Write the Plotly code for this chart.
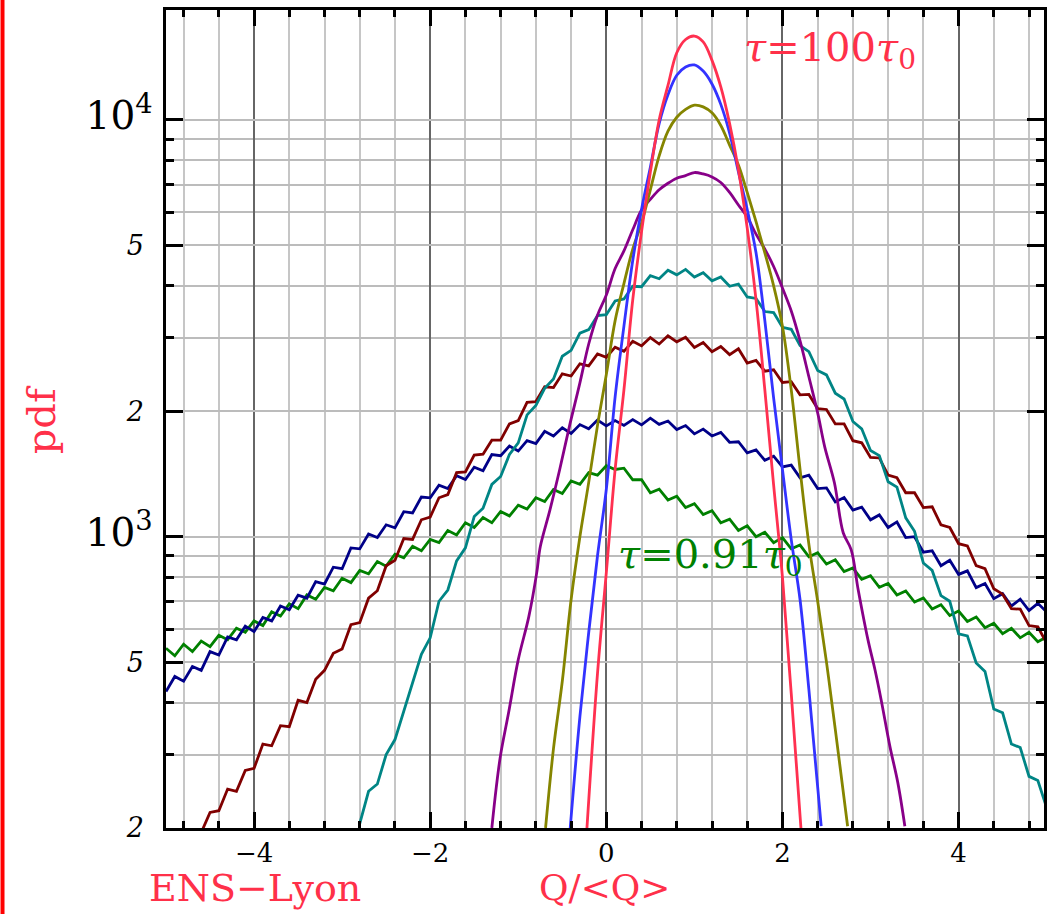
import math
import plotly.graph_objects as go

# pdf of Q/<Q> for several averaging times tau
STEP_X = lambda start, n: [round(start + 0.1 * i, 1) for i in range(n)]

GREEN_X = STEP_X(-5.0, 101)
GREEN_PDF = [540, 518, 552, 530, 562, 545, 580, 566, 603, 590,
             628, 612, 660, 645, 690, 672, 725, 708, 756, 742,
             795, 776, 830, 815, 872, 850, 908, 890, 948, 925,
             985, 968, 1035, 1010, 1080, 1052, 1112, 1080, 1150, 1122,
             1190, 1165, 1240, 1215, 1298, 1270, 1360, 1335, 1425, 1405,
             1480, 1450, 1460, 1370, 1370, 1275, 1300, 1225, 1250, 1175,
             1200, 1130, 1155, 1080, 1102, 1035, 1062, 1000, 1025, 968,
             995, 935, 955, 895, 915, 860, 880, 825, 842, 790,
             806, 756, 772, 725, 741, 697, 713, 671, 687, 647,
             663, 626, 642, 605, 620, 585, 603, 572, 590, 560,
             575]

NAVY_X = STEP_X(-5.0, 101)
NAVY_PDF = [425, 462, 450, 488, 478, 530, 520, 575, 566, 610,
            592, 640, 628, 682, 668, 724, 712, 780, 770, 845,
            838, 940, 935, 1015, 995, 1068, 1050, 1148, 1140, 1245,
            1240, 1330, 1305, 1400, 1372, 1468, 1440, 1575, 1565, 1650,
            1605, 1700, 1672, 1790, 1745, 1825, 1770, 1858, 1815, 1905,
            1845, 1900, 1850, 1910, 1855, 1925, 1860, 1895, 1808, 1848,
            1765, 1812, 1745, 1780, 1685, 1690, 1590, 1615, 1525, 1560,
            1470, 1485, 1385, 1405, 1305, 1310, 1212, 1242, 1158, 1178,
            1098, 1128, 1052, 1085, 995, 1000, 918, 925, 852, 878,
            812, 828, 755, 772, 710, 730, 682, 708, 665, 692,
            660]

MAROON_X = STEP_X(-4.6, 97)
MAROON_PDF = [195, 218, 220, 248, 245, 275, 278, 318, 315, 352,
              350, 405, 400, 455, 478, 525, 538, 615, 622, 712,
              742, 852, 878, 990, 985, 1098, 1115, 1240, 1262, 1425,
              1430, 1570, 1578, 1705, 1705, 1865, 1900, 2100, 2110, 2290,
              2280, 2460, 2430, 2600, 2570, 2745, 2695, 2850, 2785, 2945,
              2870, 3005, 2900, 3035, 2935, 3010, 2845, 2925, 2780, 2860,
              2735, 2825, 2610, 2650, 2495, 2515, 2345, 2355, 2190, 2195,
              2030, 2020, 1865, 1865, 1700, 1680, 1550, 1545, 1405, 1385,
              1275, 1275, 1175, 1180, 1068, 1052, 962, 950, 852, 838,
              750, 728, 672, 670, 612, 608, 555]

TEAL_X = STEP_X(-2.8, 79)
TEAL_PDF = [205, 245, 255, 300, 326, 382, 445, 522, 572, 700,
            745, 875, 940, 1118, 1170, 1335, 1395, 1575, 1680, 1960,
            2065, 2270, 2390, 2710, 2800, 3080, 3140, 3395, 3410, 3680,
            3720, 3990, 3980, 4230, 4160, 4360, 4250, 4380, 4200, 4300,
            4110, 4200, 3990, 4040, 3760, 3730, 3470, 3450, 3180, 3145,
            2875, 2780, 2505, 2445, 2210, 2140, 1890, 1815, 1610, 1565,
            1355, 1315, 1110, 1030, 865, 830, 722, 700, 585, 578,
            498, 475, 386, 378, 318, 312, 266, 260, 224]

PURPLE_X = [-1.30, -1.25, -1.20, -1.11, -1.00, -0.88, -0.79, -0.75, -0.64, -0.53,
            -0.41, -0.30, -0.20, -0.10, 0.00, 0.10, 0.20, 0.30, 0.40, 0.50,
            0.60, 0.70, 0.80, 0.90, 1.00, 1.10, 1.20, 1.30, 1.40, 1.50,
            1.60, 1.70, 1.80, 1.90, 2.00, 2.10, 2.20, 2.30, 2.40, 2.48,
            2.59, 2.69, 2.78, 2.86, 2.97, 3.05, 3.12, 3.22, 3.31, 3.39]
PURPLE_PDF = [200, 250, 300, 378, 507, 643, 820, 946, 1160, 1448,
              1876, 2340, 2900, 3400, 3800, 4400, 4850, 5450, 6080, 6450,
              6800, 7050, 7250, 7350, 7480, 7420, 7300, 7080, 6700, 6250,
              5850, 5320, 4900, 4450, 3950, 3480, 2950, 2420, 1982, 1643,
              1347, 1022, 931, 746, 567, 480, 407, 314, 257, 202]

OLIVE_X = [-0.69, -0.6, -0.5, -0.4, -0.3, -0.2, -0.1, 0.0, 0.1, 0.2,
           0.3, 0.4, 0.5, 0.6, 0.7, 0.8, 0.9, 1.0, 1.1, 1.2,
           1.3, 1.4, 1.5, 1.6, 1.7, 1.8, 1.9, 2.0, 2.1, 2.2,
           2.3, 2.4, 2.5, 2.6, 2.74]
OLIVE_PDF = [200, 310, 450, 706, 1000, 1350, 1850, 2450, 3300, 4050,
             4900, 5660, 6800, 8200, 9400, 10150, 10600, 10850, 10750, 10400,
             9700, 8700, 7800, 6700, 5700, 4800, 4000, 3200, 2250, 1450,
             960, 700, 500, 345, 202]

BLUE_X = [-0.41, -0.3, -0.2, -0.1, 0.0, 0.1, 0.2, 0.3, 0.4, 0.5,
          0.6, 0.7, 0.8, 0.9, 1.0, 1.1, 1.2, 1.3, 1.4, 1.5,
          1.6, 1.7, 1.8, 1.9, 2.0, 2.1, 2.2, 2.3, 2.44]
BLUE_PDF = [200, 370, 589, 900, 1300, 2165, 3200, 4600, 6100, 7700,
            9800, 11500, 12800, 13400, 13550, 13100, 12200, 10900, 9300, 7500,
            6100, 4800, 3300, 2150, 1450, 984, 706, 430, 202]

RED_X = [-0.22, -0.1, 0.0, 0.1, 0.2, 0.3, 0.4, 0.5, 0.6, 0.7,
         0.8, 0.9, 1.0, 1.1, 1.2, 1.3, 1.4, 1.5, 1.6, 1.7,
         1.8, 1.9, 2.0, 2.1, 2.21]
RED_PDF = [200, 470, 820, 1450, 2250, 3700, 5400, 7500, 10000, 12100,
           14500, 15600, 15900, 15400, 13900, 12000, 9800, 7600, 5500, 3700,
           2250, 1330, 800, 420, 200]

X_TICKS = [-4, -2, 0, 2, 4]
X_LABELS = ['\u22124', '\u22122', '0', '2', '4']
Y_TICKS = [200, 500, 1000, 2000, 5000, 10000]
Y_LABELS = ['<i>2</i>\u00a0', '<i>5</i>\u00a0',
            '<span style="font-size:39px">10<sup>3</sup></span>',
            '<i>2</i>\u00a0', '<i>5</i>\u00a0',
            '<span style="font-size:39px">10<sup>4</sup></span>']
Y_MINOR = [300, 400, 600, 700, 800, 900, 3000, 4000, 6000, 7000, 8000, 9000]
Y_DECADES = [1000, 10000]

RED_TXT = '#ff3049'
SERIF = 'DejaVu Serif'

curves = [
    (GREEN_X, GREEN_PDF, '#008000', 'linear'),
    (NAVY_X, NAVY_PDF, '#000088', 'linear'),
    (MAROON_X, MAROON_PDF, '#800000', 'linear'),
    (TEAL_X, TEAL_PDF, '#008585', 'linear'),
    (PURPLE_X, PURPLE_PDF, '#880088', 'spline'),
    (OLIVE_X, OLIVE_PDF, '#858500', 'spline'),
    (BLUE_X, BLUE_PDF, '#3333ff', 'spline'),
    (RED_X, RED_PDF, '#ff3050', 'spline'),
]

fig = go.Figure()
for xs, ys, col, shape in curves:
    fig.add_scatter(x=xs, y=ys, mode='lines', showlegend=False,
                    line=dict(color=col, width=2.8, shape=shape))

fig.update_layout(
    width=1047, height=914,
    margin=dict(l=166, r=0, t=10, b=86),
    paper_bgcolor='white', plot_bgcolor='white',
    font=dict(family=SERIF, color='black'),
)

fig.update_xaxes(
    range=[-5, 4.97], showline=True, linewidth=3, linecolor='black',
    mirror='ticks', ticks='inside', ticklen=16, tickwidth=3, tickcolor='black',
    tickmode='array', tickvals=X_TICKS, ticktext=X_LABELS,
    tickfont=dict(family=SERIF, size=26), ticklabelstandoff=0,
    showgrid=True, gridcolor='#666666', gridwidth=2, zeroline=False,
    minor=dict(dtick=0.4, tick0=0, ticks='inside', ticklen=7, tickwidth=3,
               tickcolor='black', showgrid=True, gridcolor='#c6c6c6', gridwidth=1.5),
)

fig.update_yaxes(
    type='log', range=[math.log10(200), math.log10(18360)],
    showline=True, linewidth=3, linecolor='black',
    mirror='ticks', ticks='inside', ticklen=17, tickwidth=3, tickcolor='black',
    tickmode='array', tickvals=Y_TICKS, ticktext=Y_LABELS,
    tickfont=dict(family=SERIF, size=27), ticklabelstandoff=5,
    showgrid=True, gridcolor='#bcbcbc', gridwidth=1.5, zeroline=False,
    minor=dict(tickmode='array', tickvals=Y_MINOR, ticks='inside', ticklen=8,
               tickwidth=3, tickcolor='black', showgrid=True,
               gridcolor='#bcbcbc', gridwidth=1.5),
)

# darker grid lines at the decades
for d in Y_DECADES:
    fig.add_shape(type='line', xref='paper', x0=0, x1=1, yref='y',
                  y0=math.log10(d), y1=math.log10(d), layer='between',
                  line=dict(color='#666666', width=2))

# red bar along the left edge of the page
fig.add_shape(type='line', xref='paper', yref='paper', x0=-0.1862, x1=-0.1862,
              y0=-0.12, y1=1.03, line=dict(color='#ff0000', width=4))

labels = [
    ('<i>\u03c4</i>=100<i>\u03c4</i><sub>0</sub>', 0.756, 0.951, 40, RED_TXT, 0),
    ('<i>\u03c4</i>=0.91<i>\u03c4</i><sub>0</sub>', 0.620, 0.331, 40, '#008000', 0),
    ('ENS\u2212Lyon', 0.101, -0.073, 38, RED_TXT, 0),
    ('Q/&lt;Q&gt;', 0.4994, -0.073, 36, RED_TXT, 0),
    ('pdf', -0.143, 0.499, 40, RED_TXT, -90),
]
for txt, xp, yp, sz, col, ang in labels:
    fig.add_annotation(text=txt, xref='paper', yref='paper', x=xp, y=yp,
                       xanchor='center', yanchor='middle', textangle=ang,
                       showarrow=False, font=dict(family=SERIF, size=sz, color=col))

fig.write_html('out.html', config={'displayModeBar': False},
               post_script="document.body.style.margin='0';")
